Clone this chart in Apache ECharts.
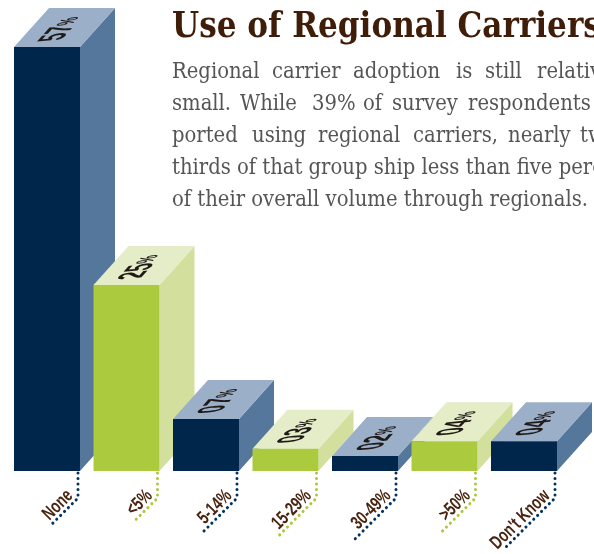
<!DOCTYPE html>
<html><head><meta charset="utf-8">
<style>html,body{margin:0;padding:0;background:#fff;overflow:hidden}#c{width:594px;height:554px}</style>
<script src="https://cdn.jsdelivr.net/npm/echarts@6/dist/echarts.min.js"></script>
</head><body><div id="c"></div>
<script>
const categories = ['None', '<5%', '5-14%', '15-29%', '30-49%', '>50%', "Don't Know"];
const shares = [57, 25, 7, 3, 2, 4, 4];
const shareLabels = ['57', '25', '07', '03', '02', '04', '04'];
const titleText = 'Use of Regional Carriers';
const bodyLines = [
  [['Regional',172],['carrier',272],['adoption',353],['is',456],['still',485],['relatively',537]],
  [['small.',172],['While',240],['39%',312],['of',363],['survey',392],['respondents',468]],
  [['ported',172],['using',252],['regional',318],['carriers,',413],['nearly',508],['two-',580]],
  [['thirds of that group ship less than five percent',172]],
  [['of their overall volume through regionals.',172]]
];
const leaderTail = [26, 25, 34, 37, 42, 33, 51];

const palette = [
  {front:'#01264c', side:'#55779b', top:'#9cafc8', dot:'#01315f'},
  {front:'#abca3e', side:'#d3e09d', top:'#e4edc7', dot:'#a9c93c'}
];
const colorIdx = [0, 1, 0, 1, 0, 1, 0];
const DX = 35, DY = -39;

// Split a 2x2 map (image of text x axis X, image of text y axis Y) into rotate-scale-rotate.
function shearGroup(cx, cy, X, Y, child) {
  const a = X[0], b = Y[0], c = X[1], d = Y[1];
  const E = (a + d) / 2, F = (a - d) / 2, G = (c + b) / 2, H = (c - b) / 2;
  const Q = Math.hypot(E, H), R = Math.hypot(F, G);
  const a1 = Math.atan2(G, F), a2 = Math.atan2(H, E);
  const theta = (a2 - a1) / 2, phi = (a2 + a1) / 2;
  child.rotation = -theta;
  return {type:'group', x:cx, y:cy, rotation:-phi, children:[
    {type:'group', scaleX:Q + R, scaleY:Q - R, children:[child]}
  ]};
}

function renderBar(params, api) {
  const i = params.dataIndex;
  const base = api.coord([api.value(0), 0]);
  const top = api.coord([api.value(0), api.value(1)]);
  const w = api.size([1, 0])[0] * 0.83;
  const l = base[0] - w / 2, r = l + w, y0 = base[1], y1 = top[1];
  const c = palette[colorIdx[i]];
  const poly = (pts, fill) => ({type:'polygon', shape:{points:pts}, style:{fill}});
  const cx = (l + r) / 2 + DX / 2 - 2.5, cy = y1 + DY / 2 + 1.5;
  const dotX = r - 2, dotTop = y0 + 2, dotMid = 498, t = leaderTail[i];
  return {type:'group', children:[
    poly([[r,y0],[r+DX,y0+DY],[r+DX,y1+DY],[r,y1]], c.side),
    poly([[l,y1],[r,y1],[r+DX,y1+DY],[l+DX,y1+DY]], c.top),
    poly([[l,y0],[r,y0],[r,y1],[l,y1]], c.front),
    shearGroup(cx, cy, [0.63, -0.70], [1.85, -0.2], {type:'text',
      style:{text:'{d|' + shareLabels[i] + '}{p|%}', x:0, y:0, align:'center', verticalAlign:'middle',
        rich:{d:{font:'bold 20px "Liberation Sans"', fill:'#1f1a17'},
              p:{font:'bold 13px "Liberation Sans"', fill:'#1f1a17'}}}}),
    {type:'polyline', shape:{points:[[dotX,dotTop],[dotX,dotMid],[dotX-t,dotMid+t]]},
     style:{fill:'none', stroke:c.dot, lineWidth:3, lineDash:[0.1,5.4], lineCap:'round'}},
    {type:'text', x:r-10, y:493, rotation:Math.PI/4, scaleX:0.72,
     style:{text:categories[i], x:0, y:0, align:'right', verticalAlign:'middle',
       font:'bold 19px "Liberation Sans"', fill:'#4a2410'}}
  ]};
}

const graphicEls = [{type:'text', x:172, y:10.5,
  style:{text:titleText, font:'bold 34.6px "DejaVu Serif Condensed"', fill:'#3f1d08'}}];
bodyLines.forEach((line, n) => line.forEach(([word, x]) => graphicEls.push({
  type:'text', x, y:61 + n * 32,
  style:{text:word, font:'21.8px "DejaVu Serif Condensed"', fill:'#555'}
})));

const chart = echarts.init(document.getElementById('c'), null, {renderer:'canvas'});
chart.setOption({
  animation:false,
  grid:{left:7.25, width:556.5, top:47, height:424},
  xAxis:{type:'category', data:categories, show:false},
  yAxis:{type:'value', min:0, max:57, show:false},
  graphic:graphicEls,
  series:[{type:'custom', clip:false, silent:true, renderItem:renderBar,
    data:shares.map((v,i)=>[i,v]), encode:{x:0,y:1}}]
});
</script></body></html>
